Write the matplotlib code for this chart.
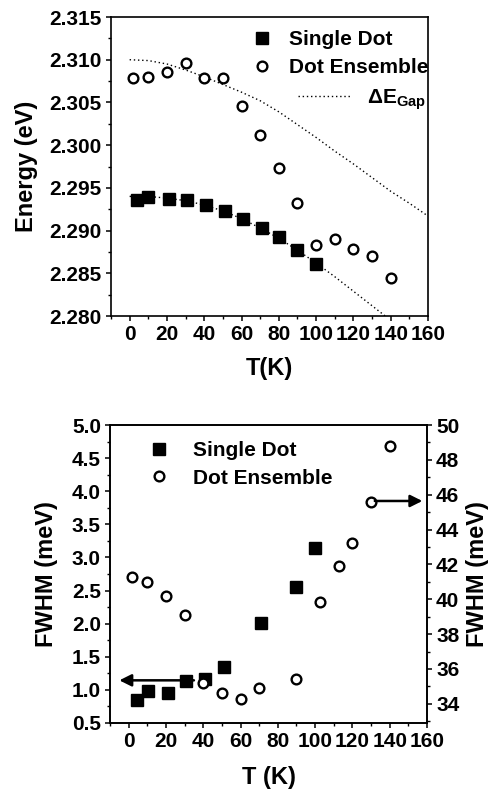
import numpy as np
import matplotlib
matplotlib.use("Agg")
import matplotlib.pyplot as plt
from matplotlib.ticker import MultipleLocator
from matplotlib.lines import Line2D

plt.rcParams.update({
    "font.family": ["Liberation Sans", "DejaVu Sans"],
    "font.size": 15,
    "font.weight": "bold",
    "axes.labelweight": "bold",
    "mathtext.fontset": "custom",
    "mathtext.rm": "Liberation Sans:bold",
    "mathtext.it": "Liberation Sans:italic:bold",
    "mathtext.default": "regular",
    "axes.linewidth": 1.2,
    "xtick.direction": "out",
    "ytick.direction": "out",
    "xtick.major.size": 3.5,
    "ytick.major.size": 3.5,
    "xtick.minor.size": 2.5,
    "ytick.minor.size": 2.5,
    "xtick.major.width": 1.1,
    "ytick.major.width": 1.1,
    "xtick.minor.width": 1.0,
    "ytick.minor.width": 1.0,
    "xtick.major.pad": 3,
    "ytick.major.pad": 3,
})

# --- top panel: peak energy vs temperature ---
T_sd = [4, 10, 21, 31, 41, 51, 61, 71, 80, 90, 100]
E_sd = [2.2936, 2.2939, 2.2937, 2.2936, 2.2930, 2.2923, 2.2913, 2.2903,
        2.2892, 2.2877, 2.2861]
T_ens = [2, 10, 20, 30, 40, 50, 60, 70, 80, 90, 100, 110, 120, 130, 140]
E_ens = [2.3079, 2.3080, 2.3086, 2.3096, 2.3079, 2.3079, 2.3046, 2.3012,
         2.2973, 2.2932, 2.2883, 2.2890, 2.2879, 2.2870, 2.2845]
# band-gap shift curves
T_gap = [0, 10, 20, 30, 40, 50, 60, 70, 80, 90, 100, 110, 120, 130, 140, 150, 160]
E_gap_hi = [2.3100, 2.3099, 2.3095, 2.3088, 2.3080, 2.3071, 2.3062, 2.3052,
            2.3039, 2.3024, 2.3009, 2.2993, 2.2978, 2.2962, 2.2946, 2.2932, 2.2917]
E_gap_lo = [2.2940, 2.2940, 2.2938, 2.2935, 2.2930, 2.2923, 2.2914, 2.2903,
            2.2891, 2.2877, 2.2862, 2.2846, 2.2829, 2.2812, 2.2795, 2.2778, 2.2761]

# --- bottom panel: linewidth vs temperature ---
T_sd_w = [4.5, 10.4, 21, 31, 41, 51, 71, 90, 100]
W_sd = [0.84, 0.98, 0.96, 1.14, 1.17, 1.35, 2.01, 2.56, 3.15]
T_ens_w = [2, 10, 20, 30, 40, 50, 60, 70, 90, 102.5, 113, 120, 130, 140]
W_ens = [41.3, 41.0, 40.2, 39.1, 35.2, 34.6, 34.3, 34.9, 35.4, 39.85,
         41.9, 43.2, 45.6, 48.8]

sq = dict(ls="none", marker="s", ms=9, color="black")
ci = dict(ls="none", marker="o", ms=7, mfc="white", mec="black", mew=1.7)

fig = plt.figure(figsize=(4.92, 7.91), dpi=100)
ax1 = fig.add_axes([0.2256, 0.6005, 0.6443, 0.378])
ax2 = fig.add_axes([0.2236, 0.086, 0.6443, 0.3767])

# ---------- top ----------
ax1.plot(T_gap, E_gap_hi, ls=(0, (1, 2)), color="black", lw=1.0)
ax1.plot(T_gap, E_gap_lo, ls=(0, (1, 2)), color="black", lw=1.0)
h_sd, = ax1.plot(T_sd, E_sd, **sq)
h_ens, = ax1.plot(T_ens, E_ens, **ci)
ax1.set_xlim(-10, 160)
ax1.set_ylim(2.280, 2.315)
ax1.xaxis.set_major_locator(MultipleLocator(20))
ax1.xaxis.set_minor_locator(MultipleLocator(10))
ax1.yaxis.set_major_locator(MultipleLocator(0.005))
ax1.yaxis.set_minor_locator(MultipleLocator(0.0025))
ax1.yaxis.set_major_formatter(plt.FormatStrFormatter("%.3f"))
ax1.tick_params(top=False, right=False, which="both")
ax1.set_xlabel("T(K)", fontsize=17, labelpad=9)
ax1.set_ylabel("Energy (eV)", fontsize=17, labelpad=8)

leg1 = ax1.legend([h_sd, h_ens], ["Single Dot", "Dot Ensemble"],
                  loc="upper left", bbox_to_anchor=(0.4435, 0.955),
                  frameon=False, borderpad=0, borderaxespad=0,
                  handlelength=1.0, handletextpad=0.8, labelspacing=0.4,
                  fontsize=15)
ax1.add_artist(leg1)
gap_handle = Line2D([], [], ls=(0, (1, 2)), color="black", lw=1.0)
ax1.legend([gap_handle], [r"$\Delta$E$_{\mathrm{Gap}}$"],
           loc="upper left", bbox_to_anchor=(0.59, 0.765),
           frameon=False, borderpad=0, borderaxespad=0,
           handlelength=2.6, handletextpad=0.7, fontsize=15)

# ---------- bottom ----------
ax2r = ax2.twinx()
h_sd2, = ax2.plot(T_sd_w, W_sd, **sq)
h_ens2, = ax2r.plot(T_ens_w, W_ens, **ci)
ax2.set_xlim(-10, 160)
ax2.set_ylim(0.5, 5.0)
ax2r.set_ylim(32.9, 50)
ax2.xaxis.set_major_locator(MultipleLocator(20))
ax2.xaxis.set_minor_locator(MultipleLocator(10))
ax2.yaxis.set_major_locator(MultipleLocator(0.5))
ax2.yaxis.set_minor_locator(MultipleLocator(0.25))
ax2.yaxis.set_major_formatter(plt.FormatStrFormatter("%.1f"))
ax2r.yaxis.set_major_locator(MultipleLocator(2))
ax2r.yaxis.set_minor_locator(MultipleLocator(1))
ax2.tick_params(top=False, which="both")
ax2r.tick_params(which="both", direction="out")
ax2.set_xlabel("T (K)", fontsize=17, labelpad=11)
ax2.set_ylabel("FWHM (meV)", fontsize=17, labelpad=10)
ax2r.set_ylabel("FWHM (meV)", fontsize=17, labelpad=5)

ax2.annotate("", xy=(-5, 1.144), xytext=(35, 1.144),
             arrowprops=dict(arrowstyle="-|>", color="black", lw=1.8,
                             mutation_scale=18, shrinkA=0, shrinkB=0))
ax2r.annotate("", xy=(157.5, 45.64), xytext=(132, 45.64),
              arrowprops=dict(arrowstyle="-|>", color="black", lw=1.8,
                              mutation_scale=18, shrinkA=0, shrinkB=0))

ax2r.legend([h_sd2, h_ens2], ["Single Dot", "Dot Ensemble"],
            loc="upper left", bbox_to_anchor=(0.122, 0.945),
            frameon=False, borderpad=0, borderaxespad=0,
            handlelength=1.0, handletextpad=1.13, labelspacing=0.4,
            fontsize=15)

fig.savefig("out.png", dpi=100)
